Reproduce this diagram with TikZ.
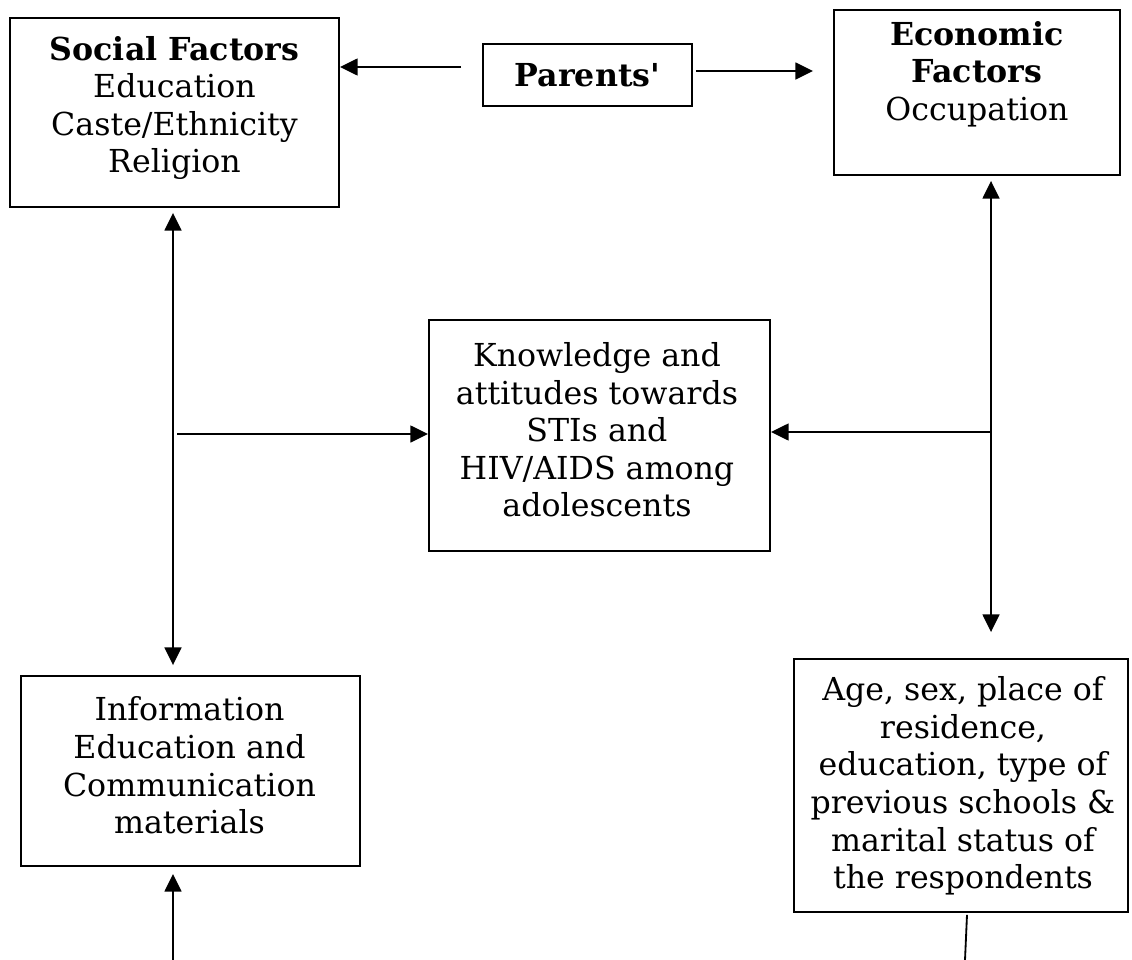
\documentclass[tikz,border=0pt]{standalone}
\usepackage{fontspec}
\setmainfont{DejaVu Serif}
\usetikzlibrary{calc}
\usetikzlibrary{arrows.meta}
\tikzstyle{every node}=[font=\fontsize{22.5}{26.7}\selectfont]
\tikzstyle{every path}=[line width=1.3pt,line join=miter]

\begin{document}
\begin{tikzpicture}[x=0.025cm,y=-0.025cm]
		\tikzstyle{arrow} = [-{Triangle[length=4.4mm, width=4.2mm]}]
		\tikzstyle{twoway} = [{Triangle[length=4.4mm, width=4.2mm]}-{Triangle[length=4.4mm, width=4.2mm]}]
		\tikzstyle{box} = [draw, rectangle, inner sep=0pt]
		\tikzstyle{txt} = [align=center, inner sep=0pt]
		
		\useasboundingbox (0,0) rectangle (1132,960);
		
		\node[box, minimum width=8.225cm, minimum height=4.725cm] (social) at (174.5,112.5) {};
		\node[box, minimum width=5.225cm, minimum height=1.55cm] (parents) at (587.5,75) {\textbf{Parents\textquotesingle}};
		\node[box, minimum width=7.15cm, minimum height=4.125cm] (economic) at (977,92.5) {};
		\node[box, minimum width=8.525cm, minimum height=5.775cm] (knowledge) at (599.5,435.5) {};
		\node[box, minimum width=8.475cm, minimum height=4.75cm] (info) at (190.5,771) {};
		\node[box, minimum width=8.35cm, minimum height=6.325cm] (age) at (961,785.5) {};
		
		\node[txt] (socialtxt) at (174.5,108) {\textbf{Social Factors}\\Education\\Caste/Ethnicity\\Religion};
		\node[txt] (economictxt) at (977,74) {\textbf{Economic}\\\textbf{Factors}\\Occupation};
		\node[txt] (knowledgetxt) at (597,430) {Knowledge and\\attitudes towards\\STIs and\\HIV/AIDS among\\adolescents};
		\node[txt] (infotxt) at (189.5,765.5) {Information\\Education and\\Communication\\materials};
		\node[txt] (agetxt) at (963,786) {Age, sex, place of\\residence,\\education, type of\\previous schools \&\\marital status of\\the respondents};
		
		\coordinate (pl) at ($(parents.west)+(-21,-8)$);
		\coordinate (pr) at ($(parents.east)+(3,-4)$);
		\coordinate (er) at ($(economic.west)+(-20,0)$);
		\coordinate (sv) at ($(social.south)+(-1.5,5)$);
		\coordinate (ev) at ($(economic.south)+(14,5)$);
		\coordinate (infobot) at (173,960);
		\coordinate (agebot) at (965,960);
		
		\draw[arrow] (pl) -- (pl -| social.east);
		\draw[arrow] (pr) -- (pr -| er);
		
		\draw[twoway] (sv) -- ($(sv |- info.north)+(0,-10)$);
		\draw[twoway] (ev) -- ($(ev |- age.north)+(0,-26)$);
		
		\draw[arrow] ($(knowledge.west -| sv)+(4,-1.5)$) -- ($(knowledge.west)+(0,-1.5)$);
		\draw[arrow] ($(knowledge.east -| ev)+(0,-3.5)$) -- ($(knowledge.east)+(0,-3.5)$);
		
		\draw[arrow] (infobot) -- ($(infobot |- info.south)+(0,7)$);
		\draw (agebot) -- ($(age.south)+(6,2)$);
		
	\end{tikzpicture}
\end{document}
